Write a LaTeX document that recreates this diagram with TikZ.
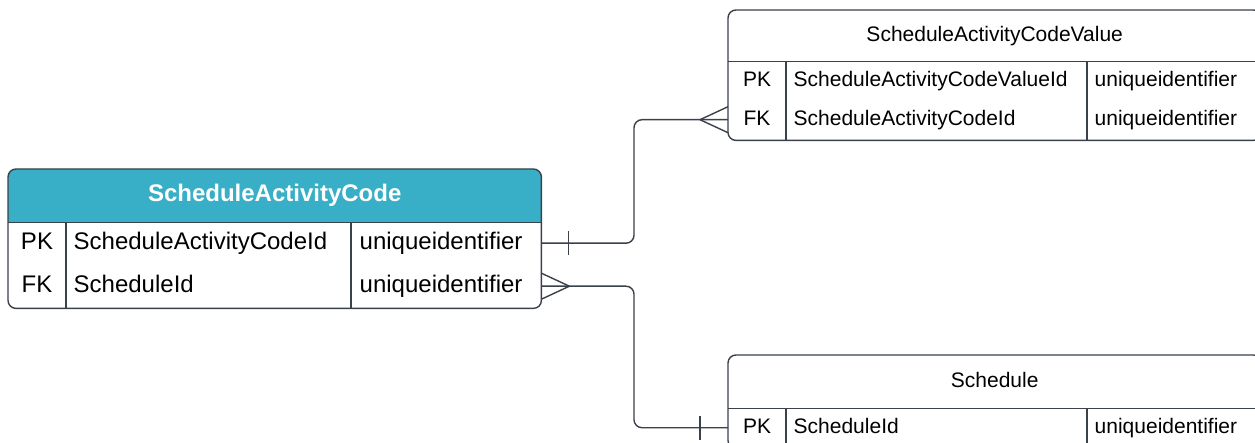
\documentclass[tikz,border=0pt]{standalone}
\usepackage{fontspec}
\setmainfont{Liberation Sans}
\definecolor{ln}{HTML}{3A414A}
\definecolor{hd}{HTML}{38AFC6}
\begin{document}
\begin{tikzpicture}[x=1pt,y=-1pt,line width=1.4pt,
  box/.style={anchor=north west,inner sep=0pt,minimum width=532pt},
  big/.style={font=\fontsize{24}{28}\selectfont},
  small/.style={font=\fontsize{21}{25}\selectfont},
  cell/.style={inner sep=0pt,text height=0.716em,text depth=0pt,text=black,yshift=-2.5pt},
  conn/.style={draw=ln,line width=1.4pt},
  frame/.style={draw=ln,rounded corners=8pt}]
\clip (0,0) rectangle (1255,443);
\fill[white] (0,0) rectangle (1255,443);

% ---------- Table A: ScheduleActivityCode ----------
\node[box,minimum height=52pt] (Ah) at (8,169) {};
\node[box,minimum height=43pt] (A1) at (8,221) {};
\node[box,minimum height=43pt] (A2) at (8,264) {};
\fill[hd] (Ah.south west) {[rounded corners=8pt] -- (Ah.north west) -- (Ah.north east)} -- (Ah.south east) -- cycle;
\draw[frame] (Ah.north west) rectangle (A2.south east);
\draw[draw=ln] (Ah.south west) -- (Ah.south east);
\draw[draw=ln] ([xshift=58pt]Ah.south west) -- ([xshift=58pt]A2.south west);
\draw[draw=ln] ([xshift=343pt]Ah.south west) -- ([xshift=343pt]A2.south west);
\node[cell,text=white,font=\fontsize{24}{28}\selectfont\bfseries] (Aht) at (Ah.center) {ScheduleActivityCode};
\node[cell,big,anchor=center] (A1k) at ([xshift=29pt]A1.west) {PK};
\node[cell,big,anchor=west] (A1n) at ([xshift=65pt]A1.west) {ScheduleActivityCodeId};
\node[cell,big,anchor=west] (A1t) at ([xshift=351pt]A1.west) {uniqueidentifier};
\node[cell,big,anchor=center] (A2k) at ([xshift=29pt]A2.west) {FK};
\node[cell,big,anchor=west] (A2n) at ([xshift=65pt]A2.west) {ScheduleId};
\node[cell,big,anchor=west] (A2t) at ([xshift=351pt]A2.west) {uniqueidentifier};

% ---------- Table B: ScheduleActivityCodeValue ----------
\node[box,minimum height=50pt] (Bh) at (728,10) {};
\node[box,minimum height=39pt] (B1) at (728,60) {};
\node[box,minimum height=40pt] (B2) at (728,99) {};
\draw[frame,fill=white] (Bh.north west) rectangle (B2.south east);
\draw[draw=ln] (Bh.south west) -- (Bh.south east);
\draw[draw=ln] ([xshift=58pt]Bh.south west) -- ([xshift=58pt]B2.south west);
\draw[draw=ln] ([xshift=359pt]Bh.south west) -- ([xshift=359pt]B2.south west);
\node[cell,small] (Bht) at (Bh.center) {ScheduleActivityCodeValue};
\node[cell,small,anchor=center] (B1k) at ([xshift=29pt]B1.west) {PK};
\node[cell,small,anchor=west] (B1n) at ([xshift=65pt]B1.west) {ScheduleActivityCodeValueId};
\node[cell,small,anchor=west] (B1t) at ([xshift=366pt]B1.west) {uniqueidentifier};
\node[cell,small,anchor=center] (B2k) at ([xshift=29pt]B2.west) {FK};
\node[cell,small,anchor=west] (B2n) at ([xshift=65pt]B2.west) {ScheduleActivityCodeId};
\node[cell,small,anchor=west] (B2t) at ([xshift=366pt]B2.west) {uniqueidentifier};

% ---------- Table C: Schedule ----------
\node[box,minimum height=52pt] (Ch) at (728,355) {};
\node[box,minimum height=40pt] (C1) at (728,407) {};
\draw[frame,fill=white] (Ch.north west) rectangle (C1.south east);
\draw[draw=ln] (Ch.south west) -- (Ch.south east);
\draw[draw=ln] ([xshift=58pt]Ch.south west) -- ([xshift=58pt]C1.south west);
\draw[draw=ln] ([xshift=359pt]Ch.south west) -- ([xshift=359pt]C1.south west);
\node[cell,small] (Cht) at (Ch.center) {Schedule};
\node[cell,small,anchor=center] (C1k) at ([xshift=29pt]C1.west) {PK};
\node[cell,small,anchor=west] (C1n) at ([xshift=65pt]C1.west) {ScheduleId};
\node[cell,small,anchor=west] (C1t) at ([xshift=366pt]C1.west) {uniqueidentifier};

% ---------- Connectors ----------
\coordinate (m) at (634,0);
\draw[conn,rounded corners=8pt] (A1.east) -- (A1.east -| m) -- (B2.west -| m) -- (B2.west);
\draw[conn] ([xshift=27pt]A1.east) ++(0,-12) -- ++(0,24);
\draw[conn] ([xshift=-28pt]B2.west) -- ++(28,-13);
\draw[conn] ([xshift=-28pt]B2.west) -- ++(28,13);

\draw[conn,rounded corners=8pt] (A2.east) -- (A2.east -| m) -- (C1.west -| m) -- (C1.west);
\draw[conn] ([xshift=28pt]A2.east) -- ++(-28,-13);
\draw[conn] ([xshift=28pt]A2.east) -- ++(-28,13);
\draw[conn] ([xshift=-28pt]C1.west) ++(0,-12) -- ++(0,24);
\end{tikzpicture}
\end{document}
